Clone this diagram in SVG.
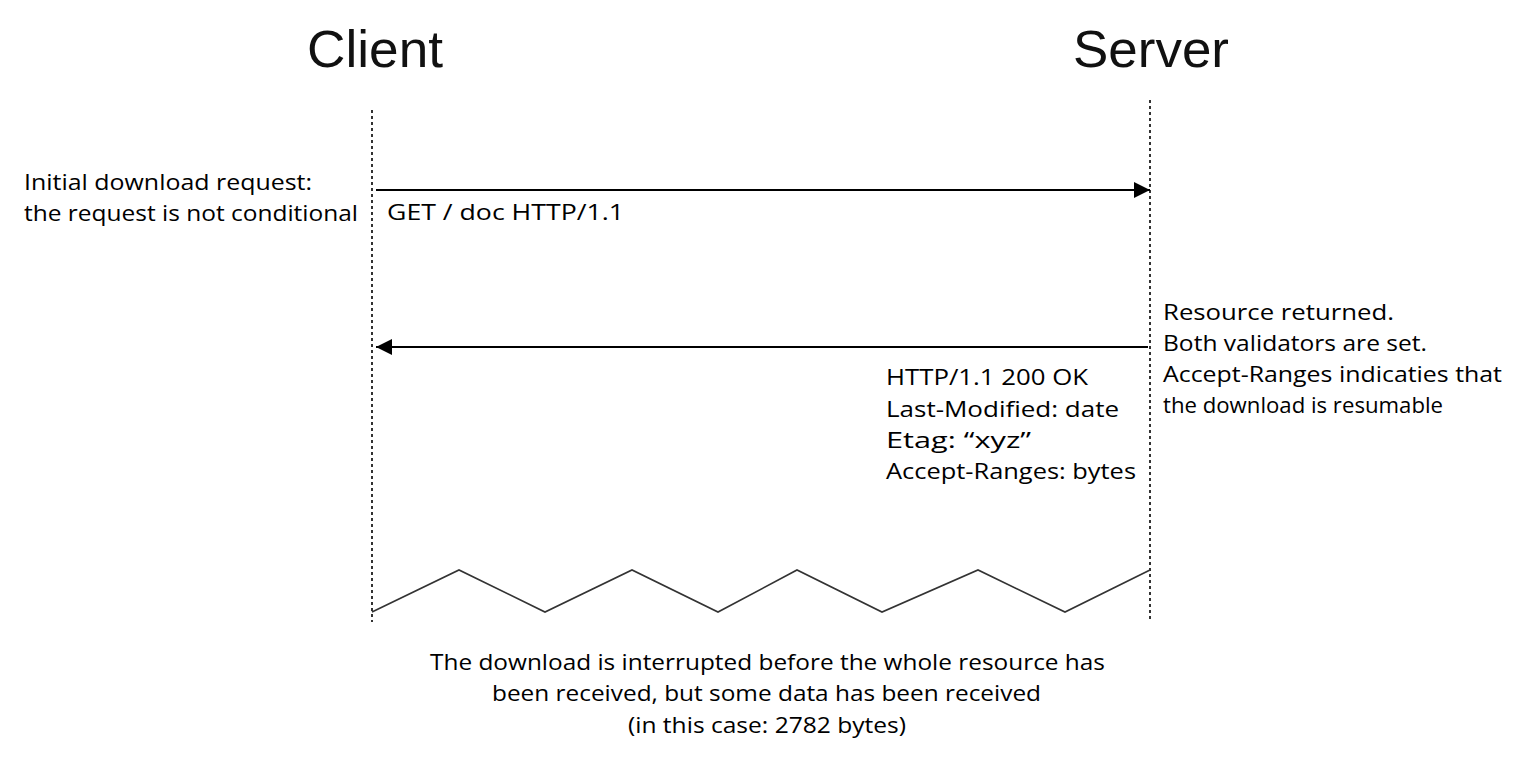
<svg xmlns="http://www.w3.org/2000/svg" width="1530" height="767" viewBox="0 0 1530 767">
<style>
.t{font-family:"Open Sans","Liberation Sans",sans-serif;font-size:21px;fill:#000}
.h{font-family:"Liberation Sans",Arial,sans-serif;font-size:52px;fill:#111}
.life{stroke:#000;stroke-width:1.6;stroke-dasharray:3 3;fill:none}
.msg{stroke:#000;stroke-width:2;fill:none}
</style>
<defs>
<marker id="ah" viewBox="0 0 10 10" refX="10" refY="5" markerWidth="24" markerHeight="16" markerUnits="userSpaceOnUse" orient="auto"><path d="M0,0 L10,5 L0,10 Z" fill="#000"/></marker>
</defs>
<rect width="1530" height="767" fill="#fff"/>
<g id="client"><text class="h" x="375" y="67" text-anchor="middle" textLength="136" lengthAdjust="spacingAndGlyphs">Client</text></g>
<g id="server"><text class="h" x="1151" y="67" text-anchor="middle" textLength="156" lengthAdjust="spacingAndGlyphs">Server</text></g>
<g id="connectors">
<line class="life" x1="372" y1="110" x2="372" y2="622"/>
<line class="life" x1="1150" y1="100" x2="1150" y2="622"/>
<line class="msg" x1="376" y1="190" x2="1150" y2="190" marker-end="url(#ah)"/>
<line class="msg" x1="1148" y1="347" x2="376" y2="347" marker-end="url(#ah)"/>
<polyline fill="none" stroke="#333" stroke-width="1.6" points="372,612 459,570 545,612 632,570 718,612 797,570 882,612 978,570 1065,612 1150,570"/>
</g>
<g id="labels" xml:space="preserve">
<text class="t" x="24" y="190" textLength="288" lengthAdjust="spacingAndGlyphs">Initial download request:</text>
<text class="t" x="24" y="221" textLength="334" lengthAdjust="spacingAndGlyphs">the request is not conditional</text>
<text class="t" x="387" y="220" textLength="237" lengthAdjust="spacingAndGlyphs">GET   / doc   HTTP/1.1</text>
<text class="t" x="1163" y="320" textLength="231" lengthAdjust="spacingAndGlyphs">Resource returned.</text>
<text class="t" x="1163" y="351" textLength="264" lengthAdjust="spacingAndGlyphs">Both validators are set.</text>
<text class="t" x="1163" y="382" textLength="339" lengthAdjust="spacingAndGlyphs">Accept-Ranges indicaties that</text>
<text class="t" x="1163" y="413" textLength="280" lengthAdjust="spacingAndGlyphs">the download is resumable</text>
<text class="t" x="886" y="385" textLength="202" lengthAdjust="spacingAndGlyphs">HTTP/1.1  200  OK</text>
<text class="t" x="886" y="417" textLength="233" lengthAdjust="spacingAndGlyphs">Last-Modified:   date</text>
<text class="t" x="886" y="448" textLength="145" lengthAdjust="spacingAndGlyphs">Etag:    “xyz”</text>
<text class="t" x="886" y="479" textLength="250" lengthAdjust="spacingAndGlyphs">Accept-Ranges:  bytes</text>
<text class="t" x="430" y="670" textLength="675" lengthAdjust="spacingAndGlyphs">The download is interrupted before the whole resource has</text>
<text class="t" x="492" y="701" textLength="549" lengthAdjust="spacingAndGlyphs">been received, but some data has been received</text>
<text class="t" x="628" y="733" textLength="278" lengthAdjust="spacingAndGlyphs">(in this case: 2782 bytes)</text>
</g>
</svg>
